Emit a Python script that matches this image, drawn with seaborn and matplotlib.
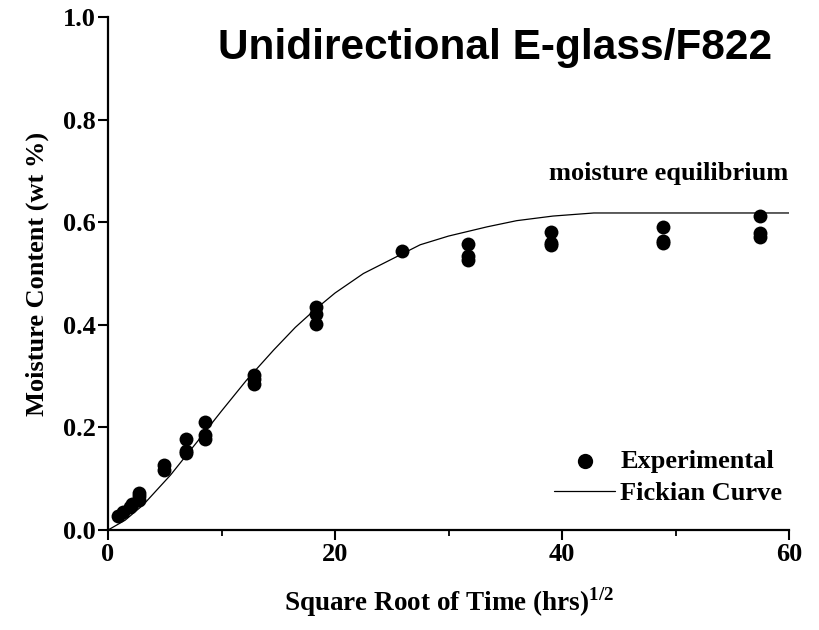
import matplotlib
matplotlib.use("Agg")
import matplotlib.pyplot as plt
import seaborn as sns
import pandas as pd
from matplotlib.ticker import MultipleLocator

# Experimental data: sqrt(time) and moisture content (wt %)
exp_x = [0.9, 1.35, 1.95, 2.1, 2.75, 2.75, 2.75,
         4.9, 4.9, 6.9, 6.9, 6.9, 8.5, 8.5, 8.5,
         12.9, 12.9, 12.9, 18.3, 18.3, 18.3, 25.9,
         31.7, 31.7, 31.7, 39.0, 39.0, 39.0,
         48.9, 48.9, 48.9, 57.4, 57.4, 57.4]
exp_y = [0.028, 0.036, 0.044, 0.050, 0.058, 0.066, 0.072,
         0.117, 0.127, 0.151, 0.155, 0.177, 0.177, 0.185, 0.211,
         0.284, 0.295, 0.302, 0.402, 0.422, 0.435, 0.543,
         0.526, 0.534, 0.557, 0.555, 0.560, 0.581,
         0.559, 0.563, 0.590, 0.572, 0.578, 0.613]

# Fickian curve
fick_x = [0, 1.5, 3.1, 5.5, 8, 10, 12.2, 14.6, 16.5, 18.2, 20, 22.5,
          25, 27.5, 30, 33.4, 36, 39.2, 42.8, 60]
fick_y = [0, 0.019, 0.049, 0.107, 0.176, 0.232, 0.292, 0.351, 0.395,
          0.429, 0.462, 0.500, 0.528, 0.556, 0.573, 0.591, 0.603,
          0.612, 0.618, 0.618]

title = "Unidirectional E-glass/F822"
annot = "moisture equilibrium"

sns.set_theme(style="ticks")
plt.rcParams["font.family"] = ["Liberation Serif", "DejaVu Serif"]
plt.rcParams["font.weight"] = "bold"
plt.rcParams["text.color"] = "black"
plt.rcParams["axes.labelcolor"] = "black"
plt.rcParams["xtick.color"] = "black"
plt.rcParams["ytick.color"] = "black"
plt.rcParams["mathtext.fontset"] = "custom"
plt.rcParams["mathtext.rm"] = "Liberation Serif:bold"
plt.rcParams["mathtext.bf"] = "Liberation Serif:bold"

fig = plt.figure(figsize=(8.19, 6.30), dpi=100)
ax = fig.add_axes([0.1319, 0.1587, 0.8315, 0.8143])

df_exp = pd.DataFrame({"x": exp_x, "y": exp_y})
df_fick = pd.DataFrame({"x": fick_x, "y": fick_y})

sns.lineplot(data=df_fick, x="x", y="y", ax=ax, color="black", lw=0.9,
             label="Fickian Curve", sort=False, zorder=2)
sns.scatterplot(data=df_exp, x="x", y="y", ax=ax, color="black", s=100,
                edgecolor="black", linewidth=0, label="Experimental",
                zorder=3, clip_on=False)

ax.set_xlim(0, 60)
ax.set_ylim(0, 1.0)
ax.xaxis.set_major_locator(MultipleLocator(20))
ax.xaxis.set_minor_locator(MultipleLocator(10))
ax.yaxis.set_major_locator(MultipleLocator(0.2))
ax.yaxis.set_major_formatter(matplotlib.ticker.FormatStrFormatter("%.1f"))

for s in ["top", "right"]:
    ax.spines[s].set_visible(False)
for s in ["left", "bottom"]:
    ax.spines[s].set_linewidth(1.6)
    ax.spines[s].set_color("black")

ax.tick_params(axis="both", which="major", direction="out", length=7,
               width=1.5, labelsize=19, colors="black", pad=2)
ax.tick_params(axis="x", which="minor", direction="out", length=4, width=1.3)
for lab in ax.get_xticklabels() + ax.get_yticklabels():
    lab.set_fontweight("bold")

ax.set_xlabel(r"Square Root of Time (hrs)$^{\mathbf{1/2}}$", fontsize=19.5,
              fontweight="bold", labelpad=14)
ax.set_ylabel("Moisture Content (wt %)", fontsize=19, fontweight="bold",
              labelpad=10)

ax.text(0.568, 0.94, title, transform=ax.transAxes, ha="center",
        va="center", fontsize=30.5, fontweight="bold", color="black",
        family=["Liberation Sans", "DejaVu Sans"])
ax.text(59.9, 0.695, annot, ha="right", va="center", fontsize=19,
        fontweight="bold", color="black")

handles, labels = ax.get_legend_handles_labels()
order = [labels.index("Experimental"), labels.index("Fickian Curve")]
leg = ax.legend([handles[i] for i in order], [labels[i] for i in order],
                loc="lower right", bbox_to_anchor=(1.017, 0.012), frameon=False,
                prop={"family": "Liberation Serif", "weight": "bold",
                      "size": 19},
                handlelength=2.3, handletextpad=0.2, labelspacing=0.35,
                borderaxespad=0.3, markerscale=1.1)
for t in leg.get_texts():
    t.set_color("black")

fig.savefig("out.png", dpi=100)
